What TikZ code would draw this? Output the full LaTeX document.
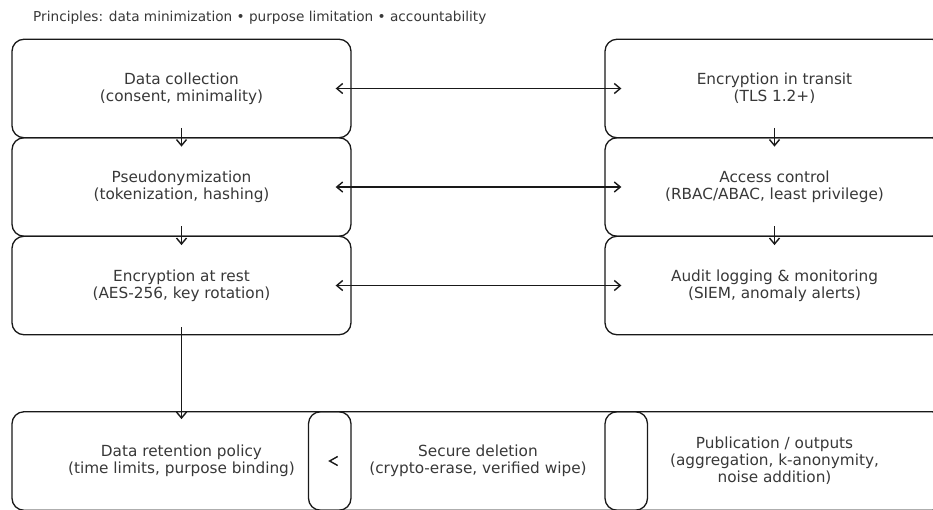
\documentclass[tikz,border=0pt]{standalone}
\usepackage{fontspec}
\setmainfont{DejaVu Sans}
\usetikzlibrary{arrows.meta,calc}
\begin{document}
\begin{tikzpicture}[x=1pt,y=-1pt,
  box/.style={draw=black!90, line width=1.3pt, rounded corners=12pt,
    minimum width=339pt, minimum height=98.5pt, align=center, inner sep=0pt,
    text=black!78, font=\fontsize{15.3}{17}\selectfont},
  tip/.tip={Straight Barb[length=6pt,width=10pt,line width=1.4pt]},
  link/.style={draw=black!90, line width=1.3pt, -tip},
  duo/.style={draw=black!90, line width=1.3pt, tip-tip}]
\clip (0,0) rectangle (933,509);
\useasboundingbox (0,0) rectangle (933,509);
\node[anchor=west, inner sep=0pt, text=black!78, font=\fontsize{13.65}{16}\selectfont] (title) at (33,18)
  {Principles: data minimization • purpose limitation • accountability};
% left column
\node[box] (a1) at (181.5,88.5) {Data collection\\(consent, minimality)};
\node[box] (a2) at (181.5,187) {Pseudonymization\\(tokenization, hashing)};
\node[box] (a3) at (181.5,285.5) {Encryption at rest\\(AES-256, key rotation)};
% right column
\node[box] (b1) at (774.5,88.5) {Encryption in transit\\(TLS 1.2+)};
\node[box] (b2) at (774.5,187) {Access control\\(RBAC/ABAC, least privilege)};
\node[box] (b3) at (774.5,285.5) {Audit logging \& monitoring\\(SIEM, anomaly alerts)};
% bottom row
\node[box] (r) at (181.5,461) {Data retention policy\\(time limits, purpose binding)};
\node[box] (d) at (478,461) {Secure deletion\\(crypto-erase, verified wipe)};
\node[box] (p) at (774.5,461) {Publication / outputs\\(aggregation, k-anonymity,\\noise addition)};
% vertical arrows
\draw[link] ($(a1.south)+(0,-10.5)$) -- ($(a2.north)+(0,9.5)$);
\draw[link] ($(a2.south)+(0,-10.5)$) -- ($(a3.north)+(0,9.5)$);
\draw[link] ($(b1.south)+(0,-10.5)$) -- ($(b2.north)+(0,9.5)$);
\draw[link] ($(b2.south)+(0,-10.5)$) -- ($(b3.north)+(0,9.5)$);
\draw[link] ($(a3.south)+(0,-8)$) -- ($(r.north)+(0,8)$);
% horizontal double arrows
\draw[duo] ($(a1.east)+(-16,0)$) -- ($(b1.west)+(17,0)$);
\draw[duo] ($(a2.east)+(-16,0)$) -- ($(b2.west)+(17,0)$);
\draw[duo] ($(a3.east)+(-16,0)$) -- ($(b3.west)+(17,0)$);
% degenerate arrow head between retention and deletion
\draw[draw=black!90, line width=1.4pt] ($(r.east)+(-14,-4.5)$) -- ($(r.east)+(-22,0)$) -- ($(r.east)+(-14,4.5)$);
\end{tikzpicture}
\end{document}
